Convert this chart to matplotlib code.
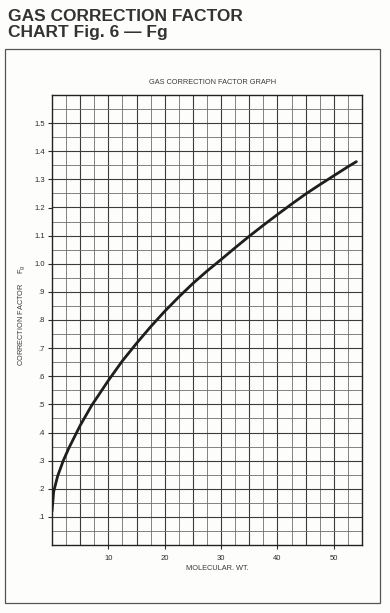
import numpy as np
import matplotlib.pyplot as plt
from matplotlib.patches import Rectangle

# values (molecular weight -> gas correction factor Fg)
mol_wt = [0.0, 0.3, 1.0, 2, 3, 4, 5, 7, 10, 12.5, 15, 17.5, 20, 22.5,
          25, 27.5, 30, 32.5, 35, 37.5, 40, 42.5, 45, 47.5, 50, 52.5, 54]
fg = [0.12, 0.19, 0.245, 0.30, 0.345, 0.385, 0.425, 0.495, 0.585, 0.655, 0.717, 0.776, 0.831, 0.882,
      0.93, 0.974, 1.015, 1.057, 1.098, 1.137, 1.175, 1.212, 1.248, 1.281, 1.313, 1.345, 1.363]

x_ticks = [10, 20, 30, 40, 50]
y_ticks = [0.1, 0.2, 0.3, 0.4, 0.5, 0.6, 0.7, 0.8, 0.9, 1.0, 1.1, 1.2, 1.3, 1.4, 1.5]
y_labels = ['.1', '.2', '.3', '.4', '.5', '.6', '.7', '.8', '.9',
            '1.0', '1.1', '1.2', '1.3', '1.4', '1.5']

plt.rcParams['font.family'] = ['Liberation Sans', 'DejaVu Sans']
ink = '#2b2b2b'

fig = plt.figure(figsize=(3.9, 6.13), dpi=100)
fig.patch.set_facecolor('#fdfdfb')

# page title
fig.text(0.02, 0.985, 'GAS CORRECTION FACTOR\nCHART Fig. 6 \u2014 Fg', ha='left', va='top',
         fontsize=12.5, fontweight='bold', color='#333333', linespacing=1.05)

# frame around the graph
fig.patches.append(Rectangle((5 / 390, 1 - 603 / 613), 375 / 390, 554 / 613,
                             transform=fig.transFigure, fill=False,
                             edgecolor='#555555', linewidth=0.9))

ax = fig.add_axes([52 / 390, 1 - 545 / 613, 310 / 390, 450 / 613])
ax.set_facecolor('#fdfdfb')
ax.set_xlim(0, 55)
ax.set_ylim(0, 1.6)

# grid: slightly heavier lines every 5 / 0.1, lighter every 2.5 / 0.05
for v in np.arange(2.5, 55, 2.5):
    major = abs(v % 5) < 1e-6
    ax.axvline(v, color='#3c3c3c' if major else '#6e6e6e', lw=0.8 if major else 0.6, zorder=1)
for v in np.arange(0.05, 1.6, 0.05):
    major = round(v * 20) % 2 == 0
    ax.axhline(v, color='#3c3c3c' if major else '#6e6e6e', lw=0.8 if major else 0.6, zorder=1)

ax.plot(mol_wt, fg, color='#1e1e1e', lw=2.0, solid_capstyle='round',
        solid_joinstyle='round', zorder=3)

ax.set_xticks(x_ticks)
ax.set_xticklabels([str(t) for t in x_ticks])
ax.set_yticks(y_ticks)
ax.set_yticklabels(y_labels)
ax.tick_params(axis='both', labelsize=5.5, colors=ink, length=3, width=0.8, pad=2)
ax.tick_params(axis='x', pad=4)
for s in ax.spines.values():
    s.set_color('#222222')
    s.set_linewidth(1.0)

fig.text(213 / 390, 1 - 83 / 613, 'GAS CORRECTION FACTOR GRAPH', ha='center', va='center',
         fontsize=5.3, color='#3a3a3a')
fig.text(217 / 390, 1 - 569 / 613, 'MOLECULAR. WT.', ha='center', va='center',
         fontsize=5.3, color='#3a3a3a')
fig.text(22 / 390, 1 - 315 / 613, 'CORRECTION FACTOR     F$_\\mathregular{g}$', rotation=90,
         ha='center', va='center', fontsize=5.3, color='#3a3a3a')

fig.savefig('out.png', dpi=100, facecolor=fig.get_facecolor())
